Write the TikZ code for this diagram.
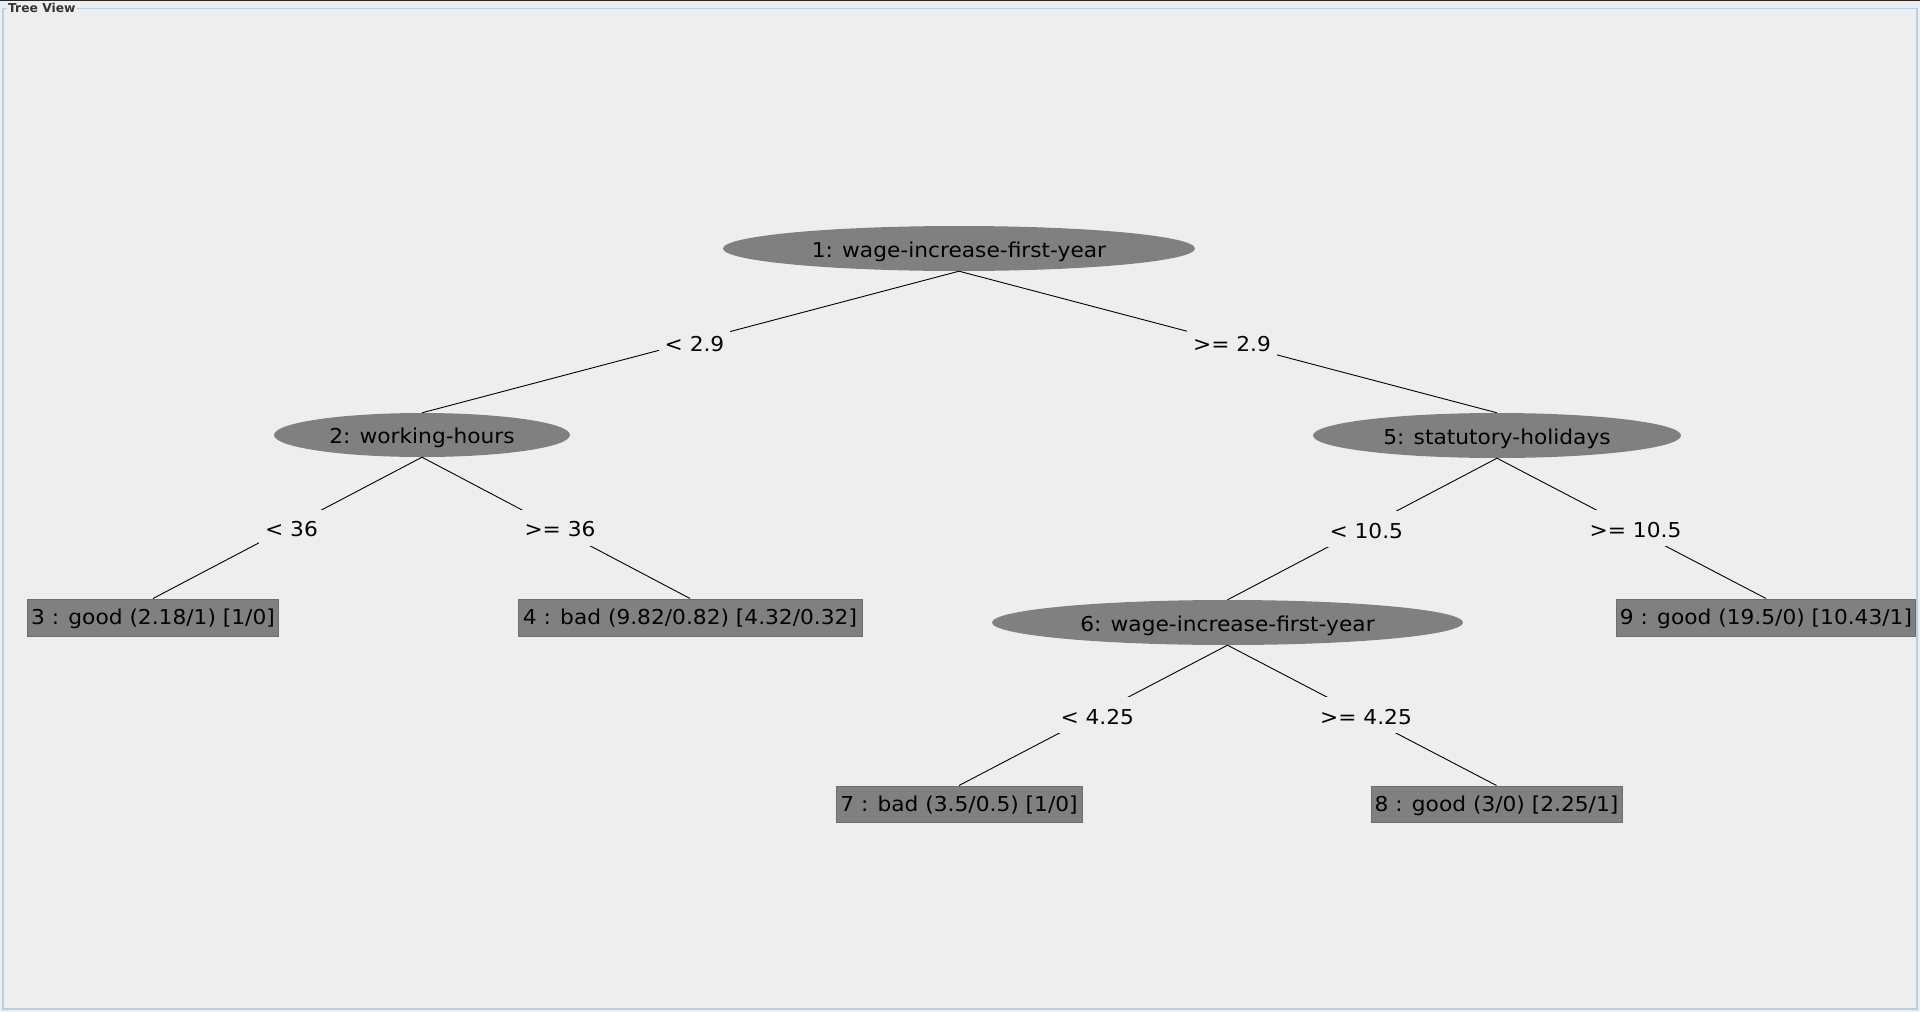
\documentclass[tikz,border=0pt]{standalone}
\usepackage{fontspec}
\setmainfont{DejaVu Sans}
\newfontfamily\treefont[FakeStretch=1.06]{DejaVu Sans}
\usetikzlibrary{shapes.geometric}
\definecolor{bg}{HTML}{EEEEEE}
\definecolor{nodegray}{HTML}{808080}
\definecolor{boxborder}{HTML}{6E6E6E}
\definecolor{frameblue}{HTML}{B8CFE5}
\definecolor{titlecol}{HTML}{333333}
\begin{document}
\begin{tikzpicture}[x=1pt,y=-1pt,
  treetext/.style={font=\treefont\fontsize{20.5}{24}\selectfont, text=black},
  splitnode/.style={ellipse, fill=nodegray, inner sep=0pt, treetext, text height=19pt, text depth=1.5pt},
  leafnode/.style={rectangle, fill=nodegray, draw=boxborder, line width=1pt, inner sep=0pt, minimum height=37pt, treetext, text height=14.6pt, text depth=0pt},
  edgelabel/.style={fill=bg, inner xsep=6pt, inner ysep=9pt, text height=18pt, text depth=0pt, xshift=4pt, treetext},
  conn/.style={draw=black, line width=0.9pt}
]
\useasboundingbox (0,0) rectangle (1920,1012);
\fill[bg] (0,0) rectangle (1920,1012);
\fill[black!85] (0,0) rectangle (1920,1.2);
\draw[frameblue, line width=1.5pt] (3,8.5) rectangle (1917,1009);
\node[anchor=base west, fill=bg, inner xsep=1.5pt, inner ysep=1pt, font=\bfseries\fontsize{12.3}{14}\selectfont, text=titlecol] (title) at (6.5,12.7) {Tree View};

% split nodes
\node[splitnode, minimum width=472pt, minimum height=45pt] (n1) at (959,248.5) {1: wage-increase-first-year};
\node[splitnode, minimum width=296pt, minimum height=44pt] (n2) at (422,435) {2: working-hours};
\node[splitnode, minimum width=368pt, minimum height=45pt] (n5) at (1497,435.5) {5: statutory-holidays};
\node[splitnode, minimum width=471pt, minimum height=45pt] (n6) at (1227.5,622.5) {6: wage-increase-first-year};

% leaves
\node[leafnode, minimum width=251pt] (n3) at (153,617.5) {3 : good (2.18/1) [1/0]};
\node[leafnode, minimum width=344pt] (n4) at (690,617.5) {4 : bad (9.82/0.82) [4.32/0.32]};
\node[leafnode, minimum width=299pt] (n9) at (1766,617.5) {9 : good (19.5/0) [10.43/1]};
\node[leafnode, minimum width=246pt, minimum height=36pt] (n7) at (959,804) {7 : bad (3.5/0.5) [1/0]};
\node[leafnode, minimum width=251pt, minimum height=36pt] (n8) at (1496.5,804) {8 : good (3/0) [2.25/1]};

% connectors with labels
\draw[conn] (n1.south) -- node[edgelabel] (l12) {< 2.9} (n2.north);
\draw[conn] (n1.south) -- node[edgelabel] (l15) {>= 2.9} (n5.north);
\draw[conn] (n2.south) -- node[edgelabel] (l23) {< 36} (n3.north);
\draw[conn] (n2.south) -- node[edgelabel] (l24) {>= 36} (n4.north);
\draw[conn] (n5.south) -- node[edgelabel] (l56) {< 10.5} (n6.north);
\draw[conn] (n5.south) -- node[edgelabel] (l59) {>= 10.5} (n9.north);
\draw[conn] (n6.south) -- node[edgelabel] (l67) {< 4.25} (n7.north);
\draw[conn] (n6.south) -- node[edgelabel] (l68) {>= 4.25} (n8.north);
\end{tikzpicture}
\end{document}
